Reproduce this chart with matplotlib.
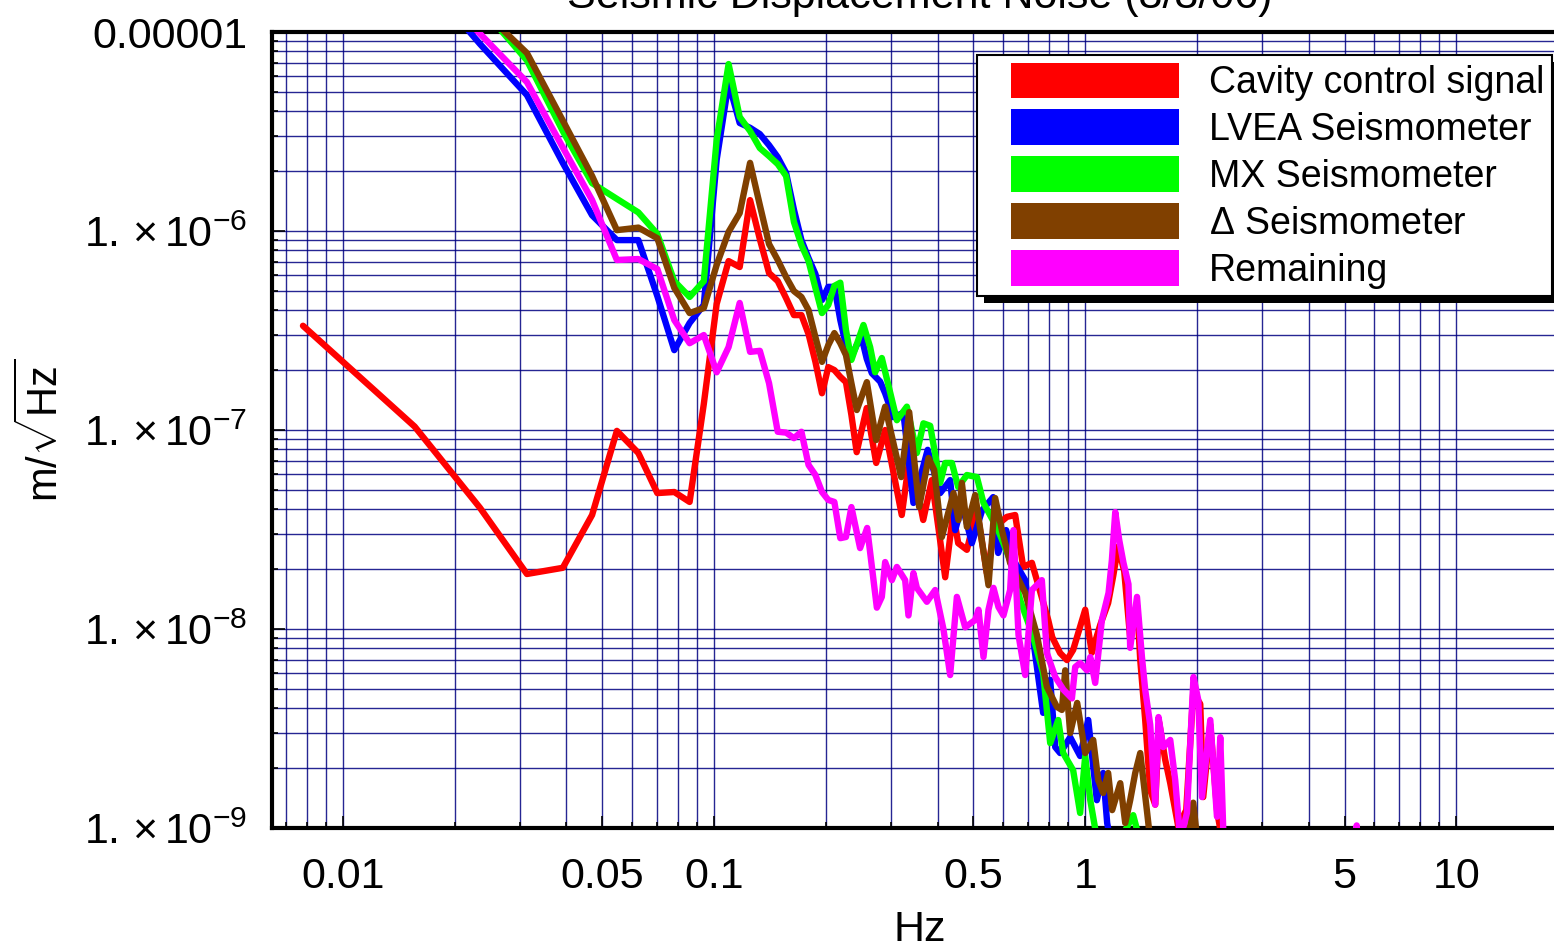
import numpy as np
import matplotlib
matplotlib.use('Agg')
import matplotlib.pyplot as plt
from matplotlib.patches import Patch, Rectangle
from matplotlib.legend_handler import HandlerPatch
from matplotlib.ticker import LogLocator, NullFormatter

plt.rcParams['font.family'] = ['Liberation Sans', 'DejaVu Sans']
plt.rcParams['mathtext.fontset'] = 'custom'
plt.rcParams['mathtext.rm'] = 'Liberation Sans'
plt.rcParams['mathtext.it'] = 'Liberation Sans:italic'
plt.rcParams['mathtext.bf'] = 'Liberation Sans:bold'

nan = np.nan

# FFT bins below 0.24 Hz (df = 1/128 Hz), shared by all curves
f_bins = [0.0078, 0.0156, 0.0234, 0.0313, 0.0391, 0.0469, 0.0547, 0.0625, 0.0703, 0.0781,
          0.0859, 0.0938, 0.1016, 0.1094, 0.1172, 0.125, 0.1328, 0.1406, 0.1484, 0.1563,
          0.1641, 0.1719, 0.1797, 0.1875, 0.1953, 0.2031, 0.2109, 0.2188, 0.2266, 0.2344]

red_lo = [3.34e-7, 1.04e-7, 4.06e-8, 1.89e-8, 2.03e-8, 3.74e-8, 9.9e-8, 7.66e-8, 4.82e-8, 4.88e-8,
          4.35e-8, 1.35e-7, 4.3e-7, 7.06e-7, 6.59e-7, 1.43e-6, 9.1e-7, 6.15e-7, 5.6e-7, 4.6e-7,
          3.78e-7, 3.78e-7, 3.03e-7, 2.2e-7, 1.53e-7, 2.07e-7, 2.0e-7, 1.85e-7, 1.74e-7, 1.19e-7]
blue_lo = [nan, 2.1e-5, 8.7e-6, 4.82e-6, 2.2e-6, 1.2e-6, 9.0e-7, 9.0e-7, 4.71e-7, 2.52e-7,
           3.45e-7, 4.25e-7, 2.28e-6, 5.55e-6, 3.49e-6, 3.3e-6, 3.07e-6, 2.7e-6, 2.35e-6, 1.96e-6,
           1.28e-6, 9.0e-7, 7.3e-7, 6.08e-7, 4.5e-7, 5.24e-7, 5.24e-7, 3.57e-7, 2.67e-7, 2.33e-7]
green_lo = [nan, nan, 1.35e-5, 7.2e-6, 3.18e-6, 1.74e-6, 1.45e-6, 1.24e-6, 9.66e-7, 5.6e-7,
            4.66e-7, 5.6e-7, 2.87e-6, 6.9e-6, 3.74e-6, 3.18e-6, 2.61e-6, 2.38e-6, 2.17e-6, 1.89e-6,
            1.11e-6, 8.5e-7, 7.06e-7, 5.18e-7, 3.87e-7, 4.25e-7, 5.3e-7, 5.5e-7, 3.18e-7, 2.25e-7]
brown_lo = [nan, nan, 1.32e-5, 7.84e-6, 3.59e-6, 1.89e-6, 1.01e-6, 1.04e-6, 9.2e-7, 5.18e-7,
            3.87e-7, 4.1e-7, 6.75e-7, 9.9e-7, 1.23e-6, 2.2e-6, 1.35e-6, 8.6e-7, 7.15e-7, 5.87e-7,
            4.99e-7, 4.66e-7, 4.0e-7, 2.93e-7, 2.2e-7, 2.67e-7, 3.07e-7, 2.73e-7, 2.38e-7, 1.72e-7]
mag_lo = [nan, 2.1e-5, 9.8e-6, 5.6e-6, 2.63e-6, 1.43e-6, 7.15e-7, 7.23e-7, 6.44e-7, 3.57e-7,
          2.73e-7, 3.0e-7, 1.95e-7, 2.61e-7, 4.35e-7, 2.47e-7, 2.5e-7, 1.72e-7, 9.8e-8, 9.7e-8,
          9.1e-8, 9.8e-8, 6.67e-8, 5.94e-8, 4.88e-8, 4.45e-8, 4.35e-8, 2.86e-8, 2.9e-8, 4.1e-8]

# higher frequencies: points
red_hi_f = [0.2422, 0.2578, 0.2734, 0.2890, 0.3204, 0.3376, 0.3660, 0.3861, 0.4195, 0.4407,
            0.4547, 0.4799, 0.5107, 0.5433, 0.5720, 0.6151, 0.6476, 0.6807, 0.7184, 0.7950,
            0.815, 0.856, 0.893, 0.928, 1.0, 1.042, 1.098, 1.153, 1.190, 1.227,
            1.274, 1.322, 1.381, 1.407, 1.451, 1.497, 1.544, 1.582, 1.643, 1.695,
            1.781, 1.872, 1.955, 2.042, 2.08, 2.173, 2.269, 2.34]
red_hi_a = [7.74e-8, 1.29e-7, 6.83e-8, 1.0e-7, 3.74e-8, 7.66e-8, 3.53e-8, 5.6e-8, 1.82e-8, 3.83e-8,
            2.7e-8, 2.5e-8, 3.96e-8, 1.91e-8, 3.26e-8, 3.66e-8, 3.74e-8, 2.05e-8, 2.15e-8, 1.11e-8,
            9.1e-9, 7.57e-9, 6.98e-9, 7.85e-9, 1.25e-8, 7.6e-9, 1.05e-8, 1.35e-8, 1.85e-8, 2.6e-8,
            1.95e-8, 9.0e-9, 1.3e-8, 7.0e-9, 3.49e-9, 1.55e-9, 1.31e-9, 3.4e-9, 2.2e-9, 1.68e-9,
            1.02e-9, 1.23e-9, 4.8e-9, 4.2e-9, 1.43e-9, 3.3e-9, 1.2e-9, 8.7e-10]

blue_hi_f = [0.2422, 0.2499, 0.2578, 0.2661, 0.2802, 0.2890, 0.3043, 0.3237, 0.3444, 0.3763,
             0.4066, 0.4326, 0.4463, 0.4660, 0.4950, 0.5278, 0.5649, 0.5827, 0.6122, 0.6476,
             0.6891, 0.7411, 0.7703, 0.8048, 0.8303, 0.856, 0.911, 0.969, 1.019, 1.075,
             1.118, 1.146, 1.168]
blue_hi_a = [2.67e-7, 2.9e-7, 2.28e-7, 1.93e-7, 1.75e-7, 1.53e-7, 1.16e-7, 1.22e-7, 4.3e-8, 7.95e-8,
             4.82e-8, 5.6e-8, 3.14e-8, 4.2e-8, 2.7e-8, 3.96e-8, 4.6e-8, 2.41e-8, 3.14e-8, 2.15e-8,
             1.76e-8, 6.44e-9, 3.79e-9, 5.55e-9, 2.55e-9, 2.38e-9, 2.86e-9, 2.3e-9, 3.49e-9, 1.38e-9,
             1.89e-9, 1.06e-9, 8.7e-10]

green_hi_f = [0.2526, 0.2633, 0.2716, 0.2831, 0.3108, 0.3307, 0.3518, 0.3665, 0.3822, 0.4066,
              0.4195, 0.4372, 0.4547, 0.4799, 0.5107, 0.5320, 0.5827, 0.6276, 0.6679, 0.7244,
              0.7703, 0.8048, 0.8458, 0.8723, 0.928, 0.969, 1.0, 1.032, 1.077, 1.205,
              1.347, 1.407]
green_hi_a = [3.37e-7, 2.61e-7, 1.95e-7, 2.3e-7, 1.12e-7, 1.31e-7, 7.66e-8, 1.08e-7, 1.05e-7, 5.42e-8,
              6.83e-8, 6.83e-8, 5.17e-8, 5.94e-8, 5.8e-8, 4.3e-8, 3.14e-8, 2.22e-8, 1.4e-8, 9.1e-9,
              6.0e-9, 2.67e-9, 3.49e-9, 2.38e-9, 1.95e-9, 1.19e-9, 2.3e-9, 1.38e-9, 8.7e-10, 7.8e-10,
              1.16e-9, 8.5e-10]

brown_hi_f = [0.2424, 0.2580, 0.2733, 0.2890, 0.3192, 0.3355, 0.3569, 0.3782, 0.3917, 0.4109,
              0.4416, 0.4555, 0.4652, 0.4799, 0.5053, 0.5488, 0.5720, 0.5963, 0.6276, 0.6891,
              0.7411, 0.7884, 0.8389, 0.8652, 0.8833, 0.911, 0.9515, 1.0, 1.051, 1.084,
              1.118, 1.153, 1.182, 1.243, 1.282, 1.322, 1.364, 1.407, 1.469, 1.497,
              1.896, 1.955, 2.004]
brown_hi_a = [1.26e-7, 1.74e-7, 8.9e-8, 1.31e-7, 5.8e-8, 1.23e-7, 4.1e-8, 7.23e-8, 6.3e-8, 2.9e-8,
              4.82e-8, 3.53e-8, 5.42e-8, 3.26e-8, 4.71e-8, 1.66e-8, 4.55e-8, 3.14e-8, 2.15e-8, 1.52e-8,
              9.33e-9, 5.12e-9, 4.06e-9, 3.92e-9, 6.2e-9, 3.0e-9, 4.25e-9, 2.38e-9, 2.77e-9, 1.74e-9,
              1.5e-9, 1.89e-9, 1.23e-9, 1.68e-9, 1.06e-9, 1.38e-9, 1.89e-9, 2.38e-9, 1.19e-9, 8.7e-10,
              8.7e-10, 1.34e-9, 8.7e-10]

mag_hi_f = [0.2474, 0.2585, 0.2745, 0.2831, 0.2890, 0.3013, 0.3108, 0.3272, 0.3340, 0.3444,
            0.3518, 0.3744, 0.3942, 0.4149, 0.4326, 0.4510, 0.4749, 0.5053, 0.5158, 0.5320,
            0.5488, 0.5660, 0.5838, 0.6021, 0.6276, 0.6408, 0.6611, 0.6891, 0.7184, 0.7641,
            0.7884, 0.8303, 0.8739, 0.9208, 0.9398, 0.969, 1.011, 1.032, 1.064, 1.109,
            1.156, 1.180, 1.205, 1.235, 1.268, 1.308, 1.322, 1.379, 1.422, 1.451,
            1.497, 1.544, 1.576, 1.623, 1.695, 1.748, 1.804, 1.880, 1.958, 2.017,
            2.064, 2.173, 2.265, 2.312, 2.36, 5.35, 5.39, 5.43]
mag_hi_a = [2.55e-8, 3.22e-8, 1.28e-8, 1.45e-8, 2.17e-8, 1.76e-8, 2.05e-8, 1.76e-8, 1.17e-8, 1.91e-8,
            1.61e-8, 1.37e-8, 1.57e-8, 1.0e-8, 5.87e-9, 1.45e-8, 1.02e-8, 1.11e-8, 1.25e-8, 7.23e-9,
            1.25e-8, 1.61e-8, 1.29e-8, 1.17e-8, 1.57e-8, 3.14e-8, 9.33e-9, 5.87e-9, 1.57e-8, 1.76e-8,
            7.57e-9, 5.74e-9, 4.95e-9, 4.48e-9, 6.44e-9, 6.75e-9, 6.2e-9, 7.23e-9, 5.36e-9, 1.11e-8,
            1.52e-8, 2.22e-8, 3.87e-8, 2.8e-8, 2.15e-8, 1.68e-8, 8.04e-9, 1.45e-8, 7.23e-9, 4.95e-9,
            3.3e-9, 1.31e-9, 3.61e-9, 2.55e-9, 2.77e-9, 1.74e-9, 8.7e-10, 1.19e-9, 5.74e-9, 4.4e-9,
            1.43e-9, 3.49e-9, 1.14e-9, 2.86e-9, 8.7e-10, 8e-10, 1.03e-9, 8e-10]

labels = ['Cavity control signal', 'LVEA Seismometer', 'MX Seismometer',
          r'$\Delta$ Seismometer', 'Remaining']
colors = ['#ff0000', '#0000ff', '#00ff00', '#804000', '#ff00ff']
series = [(red_lo, red_hi_f, red_hi_a), (blue_lo, blue_hi_f, blue_hi_a),
          (green_lo, green_hi_f, green_hi_a), (brown_lo, brown_hi_f, brown_hi_a),
          (mag_lo, mag_hi_f, mag_hi_a)]

W, H = 1554, 948
fig = plt.figure(figsize=(W / 100, H / 100), dpi=100)
ax = fig.add_axes([272 / W, 120 / H, (1568 - 272) / W, 796 / H])

for (lo, hf, ha), c in zip(series, colors):
    f = np.array(f_bins + hf)
    a = np.array(lo + ha)
    ax.plot(f, a, color=c, lw=4.6, solid_joinstyle='round', solid_capstyle='round', zorder=3)

ax.set_xscale('log')
ax.set_yscale('log')
ax.set_xlim(0.006436, 20)
ax.set_ylim(1e-9, 1e-5)

xt = [0.01, 0.05, 0.1, 0.5, 1, 5, 10]
ax.set_xticks(xt)
ax.set_xticklabels(['0.01', '0.05', '0.1', '0.5', '1', '5', '10'])
ax.xaxis.set_minor_locator(LogLocator(base=10, subs=np.arange(2, 10), numticks=50))
ax.xaxis.set_minor_formatter(NullFormatter())
yt = [1e-9, 1e-8, 1e-7, 1e-6, 1e-5]
ax.set_yticks(yt)
ax.set_yticklabels([r'$1.\,{\times}\,10^{-9}$', r'$1.\,{\times}\,10^{-8}$',
                    r'$1.\,{\times}\,10^{-7}$', r'$1.\,{\times}\,10^{-6}$', '0.00001'])
ax.yaxis.set_minor_locator(LogLocator(base=10, subs=np.arange(2, 10), numticks=50))
ax.yaxis.set_minor_formatter(NullFormatter())

ax.grid(which='both', color='#000080', lw=1.0, alpha=0.85, zorder=1)
ax.set_axisbelow(True)
ax.tick_params(which='both', direction='in', colors='black', width=1.2, labelsize=31)
ax.tick_params(which='major', length=9)
ax.tick_params(which='minor', length=4)
ax.tick_params(axis='x', pad=21)
ax.tick_params(axis='y', pad=18)

for s in ['left', 'bottom', 'top']:
    ax.spines[s].set_linewidth(3)
ax.spines['right'].set_visible(False)

ax.set_xlabel('Hz', fontsize=31, labelpad=9)
ax.set_ylabel(r'm/$\sqrt{\mathrm{Hz}}$', fontsize=30, labelpad=12)
ax.set_title('Seismic Displacement Noise (3/3/06)', fontsize=31, pad=17)

fs = 27
gap = 19.0  # points of blank before each colour patch


def wide_patch(legend, orig_handle, xdescent, ydescent, width, height, fontsize):
    return Rectangle((-xdescent + gap, -ydescent), width - gap, height)


handles = [Patch(facecolor=c, edgecolor='none', label=l) for c, l in zip(colors, labels)]
leg = ax.legend(handles=handles, loc='upper right', bbox_to_anchor=(1552 / W, 1 - 55 / H),
                bbox_transform=fig.transFigure, borderaxespad=0, fontsize=fs,
                handlelength=(gap + 121) / fs, handleheight=1.09, handletextpad=0.8,
                labelspacing=0.22, borderpad=0.2, fancybox=False, framealpha=1,
                edgecolor='black', handler_map={Patch: HandlerPatch(patch_func=wide_patch)})
leg.get_frame().set_linewidth(1.5)
leg.set_zorder(6)

fig.canvas.draw()
bb = leg.get_window_extent()
shadow = Rectangle((bb.x0 + 7, bb.y0 - 7), bb.width, bb.height, transform=None,
                   facecolor='black', edgecolor='none', zorder=5.5, clip_on=False)
ax.add_artist(shadow)

fig.savefig('out.png', dpi=100)
